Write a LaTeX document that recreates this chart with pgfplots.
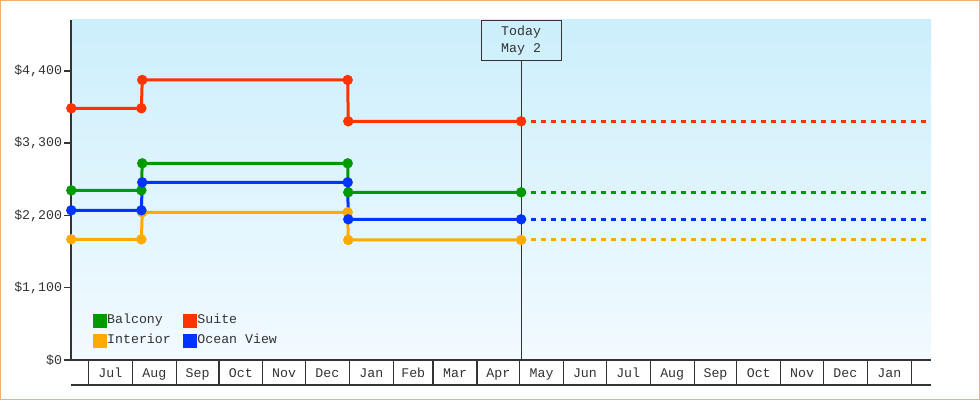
\documentclass[border=0pt]{standalone}
\usepackage{pgfplots}
\pgfplotsset{compat=1.18}
\usepackage{pgfplotstable}
\usepackage{fontspec}
\setmainfont{Liberation Mono}

\definecolor{balcony}{HTML}{009900}
\definecolor{suite}{HTML}{FF3300}
\definecolor{interior}{HTML}{FFAA00}
\definecolor{ocean}{HTML}{0033FF}
\definecolor{ink}{HTML}{333333}
\definecolor{frame}{HTML}{F0B070}
\definecolor{bgtop}{HTML}{CCEFFC}
\definecolor{bgbot}{HTML}{F2FAFF}

% x = days since 1 Jul (first year)
\pgfplotstableread{
day   suite balcony interior ocean
-12   3832  2583    1837     2279
37.4  3832  2583    1837     2279
38.0  4263  2994    2248     2705
182.8 4263  2994    2248     2705
183.2 3634  2553    1827     2142
305   3634  2553    1827     2142
}\prices

\pgfplotstableread{
day   suite balcony interior ocean
305   3634  2553    1827     2142
593.9 3634  2553    1827     2142
}\future

\begin{document}
\begin{tikzpicture}[x=1bp,y=1bp,font=\fontsize{13.3}{17.5}\selectfont]
\useasboundingbox (0,0) rectangle (980,400);
\draw[frame,line width=1bp] (0.5,0.5) rectangle (979.5,399.5);
\begin{axis}[
    at={(71bp,40bp)}, anchor=south west,
    scale only axis, width=860bp, height=340bp,
    xmin=-12.2, xmax=593.9, ymin=0, ymax=5176,
    clip=false,
    axis x line*=bottom, axis y line*=left,
    axis line style={ink,line width=2bp},
    axis background/.style={top color=bgtop,bottom color=bgbot},
    tick align=outside, major tick length=7bp,
    ytick={0,1100,2200,3300,4400},
    yticklabels={{\$0},{\$1,100},{\$2,200},{\$3,300},{\$4,400}},
    ytick style={ink,line width=1.5bp},
    yticklabel style={text=ink,anchor=east,xshift=1.5bp},
    xtick={0,31,62,92,123,153,184,215,243,274,304,335,365,396,427,457,488,518,549,580},
    x tick label as interval,
    xticklabels={Jul,Aug,Sep,Oct,Nov,Dec,Jan,Feb,Mar,Apr,May,Jun,Jul,Aug,Sep,Oct,Nov,Dec,Jan},
    xtick style={draw=none},
    xticklabel style={text=ink,anchor=base,yshift=-10.3bp},
    legend columns=2,
    legend image code/.code={\fill[#1] (0bp,-5.5bp) rectangle (11bp,5.5bp);},
    legend style={draw=none,fill=none,inner sep=0pt,row sep=6bp,
        at={(0.0256,0.136)},anchor=north west,
        nodes={inner xsep=0bp,inner ysep=0pt,anchor=west,text height=9bp,text depth=3bp,text=ink},
        /tikz/every even column/.append style={column sep=12.6bp}},
]
% month boxes under the axis
\pgfplotsinvokeforeach{0,31,62,92,123,153,184,215,243,274,304,335,365,396,427,457,488,518,549,580}{
    \draw[ink,line width=1.3bp] (axis cs:#1,0) -- ++(0pt,-25bp);
}
\draw[ink,line width=1.5bp] ([yshift=-25bp]rel axis cs:0,0) -- ([yshift=-25bp]rel axis cs:1,0);
% today marker
\draw[ink,line width=1bp] (axis cs:305,0) -- (axis cs:305,4563);
\node[draw=ink,line width=1bp,minimum width=80bp,minimum height=40bp,anchor=north,
      align=center,inner sep=0pt,text=ink] at (axis cs:305,5176) {Today\\May 2};

\addplot[balcony,line width=3bp,mark=*,mark size=3.6bp] table[x=day,y=balcony]{\prices};
\addlegendentry{Balcony}
\addplot[suite,line width=3bp,mark=*,mark size=3.6bp] table[x=day,y=suite]{\prices};
\addlegendentry{Suite}
\addplot[interior,line width=3bp,mark=*,mark size=3.6bp] table[x=day,y=interior]{\prices};
\addlegendentry{Interior}
\addplot[ocean,line width=3bp,mark=*,mark size=3.6bp] table[x=day,y=ocean]{\prices};
\addlegendentry{Ocean View}

\addplot[forget plot,balcony,line width=3bp,dash pattern=on 5bp off 5bp] table[x=day,y=balcony]{\future};
\addplot[forget plot,suite,line width=3bp,dash pattern=on 5bp off 5bp] table[x=day,y=suite]{\future};
\addplot[forget plot,interior,line width=3bp,dash pattern=on 5bp off 5bp] table[x=day,y=interior]{\future};
\addplot[forget plot,ocean,line width=3bp,dash pattern=on 5bp off 5bp] table[x=day,y=ocean]{\future};
\end{axis}
\end{tikzpicture}
\end{document}
